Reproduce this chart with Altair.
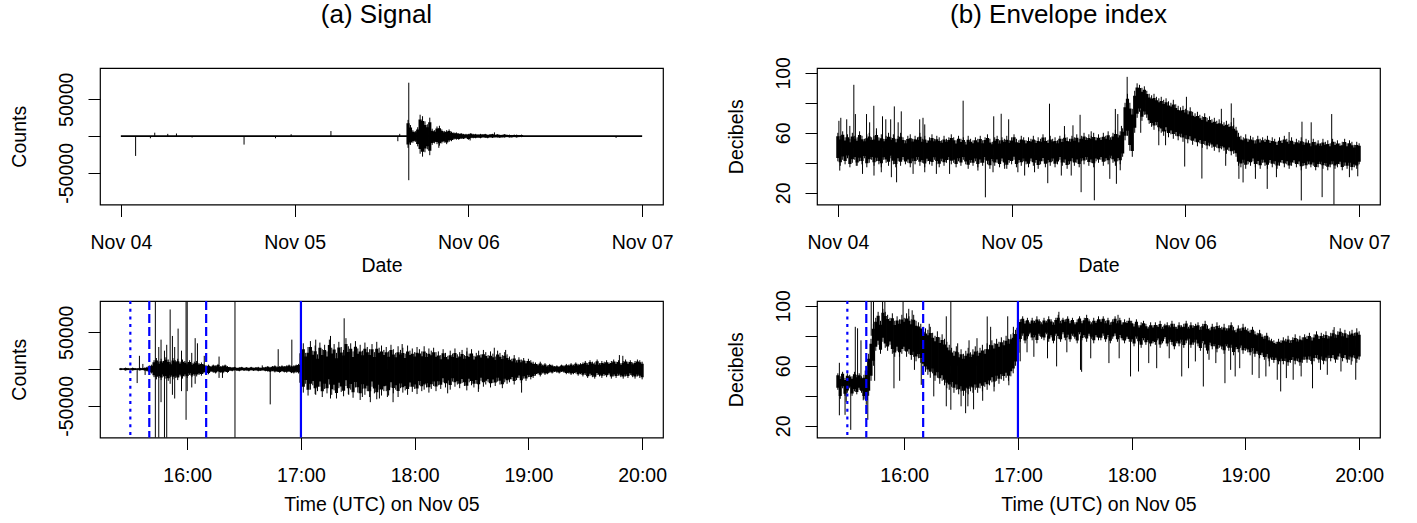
import json
import altair as alt
import pandas as pd

FONT = "Liberation Sans"
W, H = 563, 136.5

# ---------------- axes text ----------------
day_tick_values = [0, 1, 2, 3]
day_tick_labels = ["Nov 04", "Nov 05", "Nov 06", "Nov 07"]
hour_tick_values = [16, 17, 18, 19, 20]
hour_tick_labels = ["16:00", "17:00", "18:00", "19:00", "20:00"]
counts_tick_values = [-50, 0, 50]          # thousands of counts
counts_tick_labels = ["-50000", "", "50000"]
db_tick_values = [20, 40, 60, 80, 100]
db_tick_labels = ["20", "", "60", "", "100"]

# event markers on Nov 05 (hours UTC)
marker_hours = [15.5, 15 + 40 / 60, 16 + 10 / 60, 17.0]
marker_styles = ["dotted", "dashed", "dashed", "solid"]

# ---------------- (a) signal, Nov 04 - Nov 07 (days since Nov 04, kilo-counts) ----------------
sig_quiet_days = [0.0, 3.0]
sig_quiet_level = [0.0, 0.0]
sig_coda_start_day = 1.6528
sig_coda_step_min = 20
sig_coda_hi = [22, 15, 8, 7, 12, 29, 27, 20, 16, 25,
               10, 8, 13, 14, 9, 7, 8, 9, 6, 5,
               5, 4, 4, 3, 3, 3, 4, 3, 3, 2.5,
               3, 2.5, 3, 2, 2.5, 3, 2, 2.5, 2, 2,
               2.5, 2, 2, 1.5, 2, 2, 1.5, 2]
sig_coda_lo = [-16, -12, -9, -8, -14, -24, -28, -22, -18, -26,
               -12, -10, -11, -13, -10, -9, -11, -8, -7, -5,
               -5, -5, -4, -4, -3, -5, -3, -3, -3, -2.5,
               -3, -2, -2.5, -3, -2, -2.5, -2, -2, -2.5, -2,
               -2, -1.5, -2, -2, -1.5, -2, -1.5, -1.5]
sig_day_spike_t = [0.085, 0.17, 0.195, 0.27, 0.32, 0.41, 0.709, 0.89, 0.98, 1.209,
                   1.594, 1.605, 1.657, 1.83, 2.01, 2.15, 2.85]
sig_day_spike_lo = [-27, -3, 0, 0, 0, -2, -11.6, -3, 0, 0,
                    -7, 0, -60, -16, -6, 0, -2.5]
sig_day_spike_hi = [0, 0, 4.6, 3, 3.5, 0, 0, 0, 2.5, 6.8,
                    0, 3, 72.5, 0, 0, 5, 0]

# ---------------- (a) signal, Nov 05 15:25 - 20:00 (kilo-counts) ----------------
nov5_start_hour = 15 + 25 / 60
nov5_step_min = 1.25
sig_hr_hi = [1.5, 1, 2, 1.5, 1, 2, 1.5, 1, 2, 1.5, 2, 3,
             5, 6,
             12, 15, 10, 14, 11, 16, 13, 9, 15, 12, 14, 10, 13,
             11, 9, 12, 8, 10, 11, 8, 9,
             7, 5, 6, 4, 6, 5, 7, 4, 5, 6, 4,
             3, 2.5, 3, 2, 2.5, 3, 2, 2.5, 2, 3, 2, 2.5, 3, 2, 2.5,
             3, 4, 3, 4, 5, 3.5, 4, 5, 4, 5, 6, 4.5, 5, 6, 7,
             28, 35, 22, 30, 38, 25, 32, 20, 36, 27, 33, 24, 40, 29, 34, 22, 37, 30,
             26, 42, 31, 35, 24, 38, 28, 33, 25, 36, 30, 27, 34, 23, 37, 29, 32, 26,
             30, 24, 33, 27, 22, 31, 26, 29, 21, 32, 25, 28, 23, 30, 27, 24, 31, 22, 28, 25, 29, 23,
             24, 19, 27, 22, 18, 25, 21, 28, 20, 23, 26, 19, 24, 21, 27,
             18, 22, 25, 20, 26, 23, 19, 24, 21, 17, 25, 22, 19, 23, 20,
             17, 14, 19, 12, 16, 13, 15, 11, 14, 12, 10,
             9, 7, 10, 6, 8, 5, 7, 6, 4, 5, 4, 6, 5, 7, 6, 8, 6, 9, 7, 8,
             9, 11, 8, 12, 10, 9, 13, 8, 11, 10, 12, 9, 11, 13, 10, 12, 8, 11, 13, 10, 12, 9, 11, 13, 12, 10]
sig_hr_lo = [-1.5, -1, -2, -1.5, -1, -2, -1.5, -1, -2, -1.5, -2, -3,
             -5, -6,
             -11, -14, -12, -15, -10, -13, -16, -11, -14, -12, -15, -10, -13,
             -10, -12, -8, -11, -9, -10, -8, -9,
             -6, -5, -7, -4, -5, -6, -4, -5, -6, -4, -5,
             -2.5, -3, -2, -2.5, -3, -2, -2.5, -2, -3, -2, -2.5, -2, -3, -2.5, -2,
             -3, -3.5, -4, -3, -4.5, -4, -5, -3.5, -4.5, -5, -4, -5.5, -6, -5, -6,
             -25, -32, -20, -36, -28, -22, -34, -30, -24, -38, -27, -33, -21, -35, -29, -40, -26, -31,
             -37, -23, -34, -28, -39, -25, -32, -42, -27, -35, -30, -38, -24, -33, -41, -28, -36, -30,
             -30, -36, -25, -33, -28, -38, -26, -32, -29, -35, -24, -31, -27, -34, -22, -30, -28, -25, -32, -27, -23, -30,
             -22, -27, -18, -25, -20, -28, -17, -24, -21, -26, -19, -23, -29, -18, -22,
             -25, -20, -27, -16, -24, -21, -18, -25, -19, -23, -17, -21, -26, -18, -20,
             -18, -14, -21, -15, -12, -19, -13, -16, -11, -14, -12,
             -9, -7, -10, -6, -8, -7, -5, -6, -4, -5, -6, -4, -5, -7, -6, -8, -7, -6, -9, -7,
             -10, -8, -12, -9, -11, -13, -8, -10, -12, -9, -11, -8, -13, -10, -12, -9, -11, -13, -10, -12, -8, -11, -13, -10, -12, -14]
sig_hr_spike_t = [15.56, 15.58, 15.61, 15.63, 15.72, 15.75, 15.77, 15.80, 15.82, 15.85,
                  15.87, 15.89, 15.92, 15.95, 15.99, 16.00, 16.04, 16.07, 16.09, 16.15,
                  16.28, 16.31, 16.42, 16.66, 16.73, 16.80, 16.92, 17.13, 17.26, 17.38,
                  17.42, 17.54, 17.61, 17.69, 17.76, 17.81, 17.89, 18.29, 18.46, 18.56,
                  18.70, 18.80, 18.94, 19.80, 19.83]
sig_hr_spike_lo = [-19, 0, 0, -8, -100, -100, -45, -100, -100, -20,
                   -35, -40, -10, -30, -69, -30, -25, -20, -5, 0,
                   -12, -12, -100, 0, -48, 0, 0, -35, -40, 0,
                   -35, -38, -45, -40, -38, -45, 0, -33, 0, -31,
                   0, 0, -32, 0, 0]
sig_hr_spike_hi = [0, 18, 7, 0, 100, 30, 40, 25, 33, 81,
                   45, 30, 55, 25, 100, 100, 22, 42, 35, 18,
                   17, 0, 100, 5, 0, 27, 40, 40, 45, 69,
                   0, 0, 0, 0, 0, 0, 34, 0, 29, 0,
                   29, 26, 0, 19, 18]

# ---------------- (b) envelope index, Nov 04 - Nov 07 (dB) ----------------
env_day_step_min = 20
env_day_hi = [60, 58, 61, 57, 59, 56, 60, 58, 57, 61,
              58, 56, 59, 60, 57, 58, 61, 57, 59, 56,
              58, 60, 57, 59, 56, 58, 60, 57, 55, 58,
              59, 56, 58, 57, 60, 56, 58, 55, 57, 59,
              56, 58, 57, 55, 58, 56, 57, 59,
              57, 55, 58, 56, 57, 54, 58, 56, 55, 57,
              56, 58, 55, 57, 59, 56, 54, 57, 58, 55,
              57, 56, 58, 55, 57, 59, 56, 55, 58, 57,
              55, 57, 56, 58, 55, 57, 56, 59, 57, 55,
              58, 56, 57, 55, 58, 56, 59, 57, 56, 58,
              57, 59, 56, 58, 60, 57, 59, 58, 60, 57,
              59, 57, 60, 58, 61, 57, 60, 62, 59, 61, 63,
              80, 86, 80, 76, 88, 93, 92, 90, 91, 88,
              86, 85, 86, 84, 83, 84, 82, 83, 81, 80,
              82, 79, 78, 77, 78, 76, 75, 77, 74, 73,
              74, 72, 71, 73, 70, 71, 69, 70, 68, 69,
              68, 67, 68, 66, 67, 65, 64,
              60,
              58, 57, 59, 56, 58, 57, 55, 58, 56, 57,
              56, 58, 55, 57, 56, 54, 57, 55, 58, 56,
              55, 57, 54, 56, 55, 57, 54, 56, 55, 53,
              56, 54, 55, 53, 56, 54, 55, 53, 56, 54,
              55, 53, 54, 56, 53, 55, 54, 52, 54, 53]
env_day_lo = [41, 38, 42, 39, 43, 37, 40, 42, 38, 41,
              39, 43, 37, 40, 42, 38, 41, 39, 37, 42,
              40, 38, 43, 39, 37, 41, 38, 42, 39, 40,
              37, 41, 39, 42, 38, 40, 37, 41, 39, 38,
              42, 39, 37, 41, 38, 40, 42, 39,
              40, 37, 41, 38, 42, 39, 36, 40, 38, 41,
              37, 40, 38, 42, 39, 36, 41, 38, 40, 37,
              41, 38, 36, 40, 39, 42, 37, 40, 38, 41,
              39, 37, 41, 38, 40, 36, 39, 41, 37, 40,
              38, 41, 37, 39, 42, 38, 40, 36, 39, 41,
              38, 40, 37, 41, 39, 42, 38, 40, 37, 41,
              40, 42, 38, 41, 39, 43, 40, 38, 41, 39, 44,
              55, 58, 48, 44, 60, 70, 74, 68, 72, 70,
              66, 64, 62, 65, 61, 60, 58, 61, 57, 59,
              56, 58, 55, 57, 54, 56, 53, 55, 52, 54,
              51, 53, 50, 52, 49, 51, 50, 48, 50, 47,
              49, 48, 46, 48, 45, 46, 44,
              38,
              37, 40, 36, 39, 38, 41, 37, 39, 36, 40,
              38, 36, 40, 37, 39, 36, 38, 40, 37, 39,
              36, 38, 40, 37, 39, 35, 38, 36, 39, 37,
              38, 35, 37, 39, 36, 38, 35, 37, 39, 36,
              37, 39, 35, 38, 36, 38, 35, 37, 36, 39]
env_day_spike_t = [0.006, 0.017, 0.051, 0.069, 0.092, 0.101, 0.165, 0.183, 0.207, 0.222,
                   0.257, 0.276, 0.304, 0.325, 0.347, 0.365, 0.471, 0.490, 0.5, 0.721,
                   0.897, 0.940, 0.983, 1.218, 1.304, 1.353, 1.394, 1.458, 1.597, 1.611,
                   1.632, 1.665, 2.006, 2.207, 2.264, 2.278, 2.597, 2.671, 2.724, 2.842,
                   0.011, 0.106, 0.142, 0.208, 0.25, 0.308, 0.338, 0.433, 0.5, 0.567,
                   0.643, 0.806, 0.849, 0.893, 0.960, 1.036, 1.075, 1.132, 1.208, 1.286,
                   1.343, 1.4, 1.476, 1.565, 1.603, 1.625, 1.743, 1.847, 1.886, 1.996,
                   2.095, 2.232, 2.308, 2.332, 2.403, 2.471, 2.524, 2.667, 2.787, 2.855,
                   2.944, 2.992]
env_day_spike_from = [50] * 31 + [70, 65, 60, 58, 58, 48, 48, 48, 48] + \
                     [45] * 26 + [75, 65, 62, 60, 55, 52] + [45] * 10
env_day_spike_to = [68, 70, 69, 64.6, 92, 72.5, 72.5, 67, 78, 63,
                    71, 69, 69, 77.6, 67, 74.3, 69, 70, 65.6, 81.4,
                    71, 72.7, 69, 79.4, 64.5, 65, 72, 61, 75.9, 72.5,
                    64.6, 97.3, 84, 76, 79.6, 70, 60.5, 67.4, 67, 72.5,
                    34.8, 38, 32.6, 31.5, 33.7, 30.4, 27, 32.6, 33.7, 32.6,
                    32.6, 34.8, 17, 33.7, 36, 33.7, 31.5, 33.7, 26.4, 31.5,
                    31.5, 20.4, 15, 29.3, 26, 35, 60, 51.7, 51.7, 37.5,
                    29.5, 38, 29.3, 26.9, 29.3, 22.6, 30.4, 14.9, 17.1, 10,
                    30.4, 31]

# ---------------- (b) envelope index, Nov 05 15:25 - 20:00 (dB) ----------------
env_hr_hi = [55, 53, 56, 52,
             55, 54, 53, 56, 54, 55, 53,
             54, 60, 68, 78, 88, 92, 96, 90, 98, 96,
             94, 92, 95, 90, 93, 91, 94, 92, 95, 93,
             91, 94, 90, 89, 88, 86, 85, 84, 86, 82,
             80, 83, 79, 81, 78, 76, 74, 72, 70, 73,
             69, 71, 68, 70, 72, 69, 71, 73, 70, 72,
             74, 71, 75, 74, 77, 75, 78, 76, 79, 77,
             80, 78, 81, 82, 84, 88,
             91, 93, 90, 92, 89, 92, 90, 93, 91, 89,
             92, 90, 93, 91, 89, 92, 94, 90, 92, 91,
             93, 90, 92, 89, 91, 93, 90, 92, 94, 91, 89, 92, 90, 93,
             91, 93, 90, 92, 89, 91, 93, 90, 92, 89, 91, 90, 92,
             90, 88, 91, 87, 89, 90, 88, 86, 89, 87,
             89, 87, 90, 86, 88, 89, 87, 90, 88, 86,
             89, 87, 88, 90, 86, 89, 87, 88,
             89, 86, 88, 90, 87, 85, 88, 86, 89, 87,
             86, 88, 85, 87, 89, 86, 84, 87, 85, 88, 86,
             85, 84, 86, 83, 82, 84, 81, 80, 82, 79, 78,
             77, 76, 78, 77,
             79, 78, 80, 77, 79, 81, 78, 80, 79, 81,
             80, 82, 79, 81, 83, 80, 82, 81, 83, 80,
             82, 84, 81, 83, 85, 82, 84, 81, 83, 84, 82, 85, 83]
env_hr_lo = [44, 38, 45, 40,
             42, 45, 40, 43, 41, 44, 42,
             38, 34, 40, 50, 60, 70, 74, 68, 76, 72,
             70, 74, 68, 66, 70, 66, 68, 70, 66, 68,
             64, 66, 63, 65, 62, 58, 56, 54, 52, 55,
             50, 52, 48, 50, 47, 45, 44, 46, 42, 44,
             41, 43, 40, 42, 41, 43, 42, 44, 42, 45,
             43, 46, 44, 47, 49, 46, 50, 48, 51, 50,
             52, 50, 53, 55, 60, 66,
             76, 80, 75, 78, 81, 77, 79, 75, 80, 78,
             77, 81, 76, 79, 75, 80, 78, 76, 81, 77,
             79, 76, 80, 78, 75, 81, 77, 79, 76, 80, 78, 75, 79, 77,
             77, 80, 76, 79, 75, 78, 80, 76, 79, 77, 75, 78, 76,
             76, 73, 78, 75, 72, 77, 74, 76, 73, 75,
             74, 77, 72, 75, 78, 73, 76, 74, 71, 75,
             73, 76, 72, 75, 77, 72, 74, 76,
             73, 70, 75, 72, 68, 74, 71, 73, 69, 72,
             71, 68, 73, 70, 72, 67, 71, 69, 72, 68, 70,
             69, 67, 70, 66, 68, 65, 67, 64, 66, 63, 64,
             62, 64, 61, 63,
             61, 63, 60, 62, 64, 61, 63, 60, 62, 64,
             62, 64, 61, 63, 65, 62, 64, 61, 63, 65,
             63, 65, 62, 64, 66, 63, 65, 62, 64, 63, 65, 62, 64]
env_hr_spike_t = [15.43, 15.57, 15.59, 15.62, 15.71, 15.73, 15.81, 15.83, 15.99, 16.04,
                  16.07, 16.22, 16.37, 16.41, 16.47, 16.57, 16.64, 16.73, 16.76, 16.91,
                  16.96, 17.36, 17.88, 19.78,
                  15.43, 15.48, 15.49, 15.53, 15.64, 15.68, 15.74, 15.91, 15.96, 16.09,
                  16.15, 16.26, 16.37, 16.41, 16.50, 16.54, 16.56, 16.61, 16.69, 16.79,
                  16.92, 17.02, 17.08, 17.14, 17.26, 17.34, 17.43, 17.55, 17.56, 17.64,
                  17.80, 17.89, 17.99, 18.06, 18.15, 18.22, 18.33, 18.44, 18.50, 18.56,
                  18.63, 18.68, 18.74, 18.82, 18.87, 18.91, 18.95, 19.06, 19.12, 19.18,
                  19.21, 19.28, 19.31, 19.36, 19.42, 19.49, 19.59, 19.66, 19.72, 19.84,
                  19.93, 19.97]
env_hr_spike_from = [50, 50, 50, 50, 80, 80, 85, 85, 85, 85,
                     85, 75, 70, 60, 60, 60, 60, 60, 62, 68,
                     70, 85, 85, 75,
                     50, 50, 50, 50, 50, 50, 70, 70, 70, 70,
                     65, 60, 55, 55, 50, 50, 50, 50, 50, 55,
                     60, 80, 80, 80, 80, 80, 80, 80, 80, 80,
                     80, 80, 80, 78, 78, 78, 78, 78, 78, 78,
                     75, 75, 75, 75, 75, 75, 75, 72, 72, 70,
                     70, 68, 68, 68, 68, 70, 70, 70, 70, 72,
                     72, 72]
env_hr_spike_to = [62, 86, 85, 77, 104, 104, 104, 104, 104, 98,
                   97, 88, 93, 104, 75, 77, 78.4, 92.9, 86, 93,
                   86, 96, 94, 85.8,
                   27, 27.3, 36, 17.3, 37, 24, 50, 45, 50, 57.3,
                   47.3, 39.6, 33, 30.7, 33, 28.4, 33, 31, 36.7, 42.9,
                   47, 63, 69, 66, 65, 59.6, 69, 57.3, 56, 65,
                   61.8, 65, 52.9, 56.2, 61.8, 58.4, 65, 52.9, 58.4, 62.9,
                   46.2, 64, 61.8, 48.4, 57.3, 52.9, 58.4, 54, 51.8, 52.9,
                   59.6, 50.7, 42.9, 51.8, 50.7, 52.9, 45, 57.3, 54, 56.2,
                   60.7, 50.7]


# ---------------- table builders ----------------
def grid_table(start, step, hi, lo):
    n = min(len(hi), len(lo))
    return pd.DataFrame({"t": [start + i * step for i in range(n)],
                         "lo": lo[:n], "hi": hi[:n]})


def spike_table(t, a, b):
    n = min(len(t), len(a), len(b))
    return pd.DataFrame({"t": t[:n], "lo": a[:n], "hi": b[:n]})


def label_expr(values, labels):
    return f"{json.dumps(labels)}[indexof({json.dumps(values)}, datum.value)]"


def x_axis(values, labels, title, title_y):
    return alt.Axis(values=values, labelExpr=label_expr(values, labels), title=title,
                    domain=False, grid=False, ticks=True, tickSize=12, tickColor="black",
                    tickWidth=1, labelFont=FONT, labelFontSize=19.5, labelColor="black",
                    labelAngle=0, labelAlign="center", labelBaseline="alphabetic",
                    labelPadding=32, labelOverlap=False, labelFlush=False,
                    titleFont=FONT, titleFontSize=19.5, titleFontWeight="normal",
                    titleColor="black", titleX=W / 2, titleY=title_y, titleAngle=0,
                    titleAlign="center", titleBaseline="alphabetic")


def y_axis(values, labels, title):
    return alt.Axis(values=values, labelExpr=label_expr(values, labels), title=title,
                    domain=False, grid=False, ticks=True, tickSize=12, tickColor="black",
                    tickWidth=1, labelFont=FONT, labelFontSize=19.5, labelColor="black",
                    labelAngle=270, labelAlign="center", labelBaseline="alphabetic",
                    labelPadding=15.6, labelOverlap=False, labelFlush=False,
                    titleFont=FONT, titleFontSize=19.5, titleFontWeight="normal",
                    titleColor="black", titleX=-74.3, titleY=H / 2, titleAngle=270,
                    titleAlign="center", titleBaseline="alphabetic")


day_scale = alt.Scale(domain=[-0.12, 3.12], nice=False, zero=False)
hour_scale = alt.Scale(domain=[15.2333, 20.1833], nice=False, zero=False)
counts_scale = alt.Scale(domain=[-93, 92.5], nice=False, zero=False)
db_scale = alt.Scale(domain=[12.2, 103.2], nice=False, zero=False)

CORE = 0.12  # share of each column's min-max range drawn as thin hairline at each end


def panel(layers_data, xscale, xax, yscale, yax, col_width, markers=False, title=None):
    X = alt.X("t:Q", scale=xscale, axis=xax)
    layers = []
    for kind, df in layers_data:
        if kind == "band":
            base = alt.Chart(df)
            layers.append(base.mark_rule(color="black", strokeWidth=1, clip=True)
                          .encode(x=X, y=alt.Y("lo:Q", scale=yscale, axis=yax), y2="hi:Q"))
            layers.append(base.transform_calculate(
                clo=f"datum.lo + {CORE} * (datum.hi - datum.lo)",
                chi=f"datum.hi - {CORE} * (datum.hi - datum.lo)")
                .mark_rule(color="black", strokeWidth=col_width, clip=True)
                .encode(x=X, y=alt.Y("clo:Q", scale=yscale, axis=yax), y2="chi:Q"))
        elif kind == "spike":
            layers.append(alt.Chart(df).mark_rule(color="black", strokeWidth=1, clip=True)
                          .encode(x=X, y=alt.Y("lo:Q", scale=yscale, axis=yax), y2="hi:Q"))
        elif kind == "line":
            layers.append(alt.Chart(df).mark_line(color="black", strokeWidth=1.8, clip=True)
                          .encode(x=X, y=alt.Y("lo:Q", scale=yscale, axis=yax)))
    if markers:
        mdf = pd.DataFrame({"t": marker_hours, "style": marker_styles})
        layers.append(alt.Chart(mdf).mark_rule(color="#0000ff", strokeWidth=2.2)
                      .encode(x=X,
                              strokeDash=alt.StrokeDash("style:N", legend=None,
                                                        scale=alt.Scale(domain=["dotted", "dashed", "solid"],
                                                                        range=[[3, 4.7], [9, 4], [1, 0]]))))
    ch = alt.layer(*layers).properties(width=W, height=H)
    if title is not None:
        ch = ch.properties(title=title)
    return ch


def make_title(text, dx, offset):
    return alt.TitleParams(text, font=FONT, fontSize=26, fontWeight="normal", color="black",
                           anchor="middle", frame="group", baseline="alphabetic",
                           offset=offset, dx=dx)


sig_day_quiet = pd.DataFrame({"t": sig_quiet_days, "lo": sig_quiet_level})
sig_day_coda = grid_table(sig_coda_start_day, sig_coda_step_min / 1440, sig_coda_hi, sig_coda_lo)
sig_day_spk = spike_table(sig_day_spike_t, sig_day_spike_lo, sig_day_spike_hi)

sig_hr_cols = grid_table(nov5_start_hour, nov5_step_min / 60, sig_hr_hi, sig_hr_lo)
sig_hr_spk = spike_table(sig_hr_spike_t, sig_hr_spike_lo, sig_hr_spike_hi)

env_day_cols = grid_table(0.0, env_day_step_min / 1440, env_day_hi, env_day_lo)
env_day_spk = spike_table(env_day_spike_t, env_day_spike_from, env_day_spike_to)

env_hr_cols = grid_table(nov5_start_hour, nov5_step_min / 60, env_hr_hi, env_hr_lo)
env_hr_spk = spike_table(env_hr_spike_t, env_hr_spike_from, env_hr_spike_to)

tl = panel([("line", sig_day_quiet), ("band", sig_day_coda), ("spike", sig_day_spk)],
           day_scale, x_axis(day_tick_values, day_tick_labels, "Date", 67),
           counts_scale, y_axis(counts_tick_values, counts_tick_labels, "Counts"),
           3.2, title=make_title("(a) Signal", -5, 19))
tr = panel([("band", env_day_cols), ("spike", env_day_spk)],
           day_scale, x_axis(day_tick_values, day_tick_labels, "Date", 67),
           db_scale, y_axis(db_tick_values, db_tick_labels, "Decibels"),
           3.2, title=make_title("(b) Envelope index", -40, 8))
bl = panel([("band", sig_hr_cols), ("spike", sig_hr_spk)],
           hour_scale, x_axis(hour_tick_values, hour_tick_labels, "Time (UTC) on Nov 05", 72.5),
           counts_scale, y_axis(counts_tick_values, counts_tick_labels, "Counts"),
           3.1, markers=True)
br = panel([("band", env_hr_cols), ("spike", env_hr_spk)],
           hour_scale, x_axis(hour_tick_values, hour_tick_labels, "Time (UTC) on Nov 05", 72.5),
           db_scale, y_axis(db_tick_values, db_tick_labels, "Decibels"),
           3.1, markers=True)

chart = alt.concat(tl, tr, bl, br, columns=2, spacing={"row": 12, "column": 52}).properties(
    padding={"left": 9, "top": 0, "right": 0, "bottom": 0},
    background="white",
).configure_view(stroke="black", strokeWidth=1.2)

chart.save("out.html", embed_options={"renderer": "svg", "actions": False})
